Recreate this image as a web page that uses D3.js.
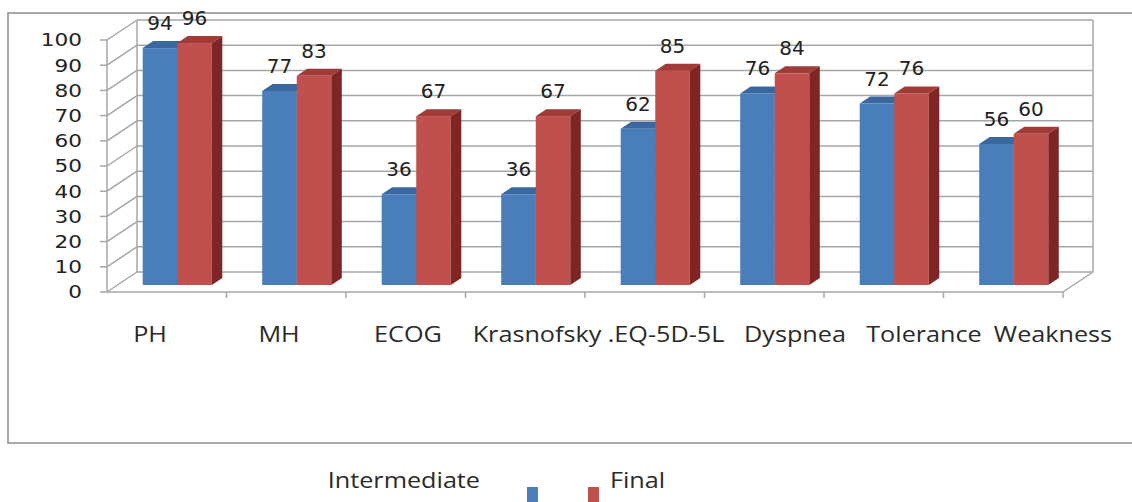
<!DOCTYPE html>
<html>
<head>
<meta charset="utf-8">
<script src="https://cdn.jsdelivr.net/npm/d3@7"></script>
<style>
  html, body { margin: 0; padding: 0; background: #fff; }
  svg { display: block; }
</style>
</head>
<body>
<svg id="chart" width="1132" height="502"></svg>
<script>
// chart data
const categories = ['PH', 'MH', 'ECOG', 'Krasnofsky', '.EQ-5D-5L', 'Dyspnea', 'Tolerance', 'Weakness'];
const series = ['Intermediate', 'Final'];
const intermediate = [94, 77, 36, 36, 62, 76, 72, 56];
const final = [96, 83, 67, 67, 85, 84, 76, 60];
const yTicks = [0, 10, 20, 30, 40, 50, 60, 70, 80, 90, 100];

const colors = {
  Intermediate: { front: '#4a7ebb', top: '#3a679e', side: '#2f5688' },
  Final: { front: '#c0504d', top: '#a03b38', side: '#7f2624' }
};

const svg = d3.select('#chart');
const gridColor = '#a6a6a6';
const stretch = 'scale(1.2,1)';

// depth projection: d = 0 front, d = 1 back wall
const depthX = 30, depthY = -20;
function px(x, d) { return x + depthX * d; }
function py(y, d) { return y + depthY * d; }

const x0 = d3.scaleBand().domain(categories).range([107, 1063]);
const x1 = d3.scaleBand().domain(series).range([0, x0.bandwidth()]).paddingOuter(0.73);
const y = d3.scaleLinear().domain([0, 100]).range([292, 40]);
const labelX = d3.scalePoint().domain(categories).range([150, 1053]);

// outer frame
svg.append('rect')
  .attr('x', 8).attr('y', 13)
  .attr('width', 1140).attr('height', 430)
  .attr('fill', 'none').attr('stroke', '#8c8c8c').attr('stroke-width', 1.5);

const wall = svg.append('g').attr('stroke', gridColor).attr('stroke-width', 1.5).attr('fill', 'none');

// back wall gridlines
wall.selectAll('line.grid').data(yTicks).join('line')
  .attr('class', 'grid')
  .attr('x1', px(x0.range()[0], 1)).attr('x2', px(x0.range()[1], 1))
  .attr('y1', d => py(y(d), 1)).attr('y2', d => py(y(d), 1));

// back wall edges
wall.append('line')
  .attr('x1', px(x0.range()[0], 1)).attr('x2', px(x0.range()[0], 1))
  .attr('y1', py(y(0), 1)).attr('y2', py(y(100), 1));
wall.append('line')
  .attr('x1', px(x0.range()[1], 1)).attr('x2', px(x0.range()[1], 1))
  .attr('y1', py(y(0), 1)).attr('y2', py(y(100), 1));

// side wall diagonals
wall.selectAll('line.diag').data(yTicks).join('line')
  .attr('class', 'diag')
  .attr('x1', x0.range()[0]).attr('y1', d => y(d))
  .attr('x2', px(x0.range()[0], 1)).attr('y2', d => py(y(d), 1));

// floor
wall.append('line')
  .attr('x1', x0.range()[0]).attr('x2', x0.range()[1])
  .attr('y1', y(0)).attr('y2', y(0));
wall.append('line')
  .attr('x1', x0.range()[1]).attr('y1', y(0))
  .attr('x2', px(x0.range()[1], 1)).attr('y2', py(y(0), 1));

// front value axis with ticks
wall.append('line')
  .attr('x1', x0.range()[0]).attr('x2', x0.range()[0])
  .attr('y1', y(0)).attr('y2', y(100));
wall.selectAll('line.ytick').data(yTicks).join('line')
  .attr('class', 'ytick')
  .attr('x1', x0.range()[0] - 7).attr('x2', x0.range()[0])
  .attr('y1', d => y(d)).attr('y2', d => y(d));

// category ticks
wall.selectAll('line.xtick').data(categories).join('line')
  .attr('class', 'xtick')
  .attr('x1', d => x0(d) + x0.step())
  .attr('x2', d => x0(d) + x0.step())
  .attr('y1', y(0)).attr('y2', y(0) + 6);

// y tick labels
svg.selectAll('text.ylab').data(yTicks).join('text')
  .attr('class', 'ylab')
  .attr('transform', d => `translate(82,${y(d)}) ${stretch}`)
  .attr('dy', '0.36em')
  .attr('text-anchor', 'end')
  .attr('font-family', 'DejaVu Sans')
  .attr('font-size', 18)
  .attr('fill', '#222')
  .text(d => d);

// bars, drawn left to right so the right side faces overlap correctly
const bars = [];
categories.forEach((c, i) => {
  bars.push({ cat: c, s: 'Intermediate', v: intermediate[i] });
  bars.push({ cat: c, s: 'Final', v: final[i] });
});

const dFront = 0.35, dBack = 0.7;
const barG = svg.append('g');
bars.forEach(b => {
  const xl = px(x0(b.cat) + x1(b.s), dFront);
  const w = x1.bandwidth();
  const yt = py(y(b.v), dFront);
  const yb = py(y(0), dFront);
  const dx = depthX * (dBack - dFront), dy = depthY * (dBack - dFront);
  const g = barG.append('g');
  g.append('rect')
    .attr('x', xl).attr('y', yt).attr('width', w).attr('height', yb - yt)
    .attr('fill', colors[b.s].front);
  g.append('path')
    .attr('d', `M${xl},${yt}L${xl + dx},${yt + dy}L${xl + w + dx},${yt + dy}L${xl + w},${yt}Z`)
    .attr('fill', colors[b.s].top);
  g.append('path')
    .attr('d', `M${xl + w},${yt}L${xl + w + dx},${yt + dy}L${xl + w + dx},${yb + dy}L${xl + w},${yb}Z`)
    .attr('fill', colors[b.s].side);
  // value label
  svg.append('text')
    .attr('x', xl + w / 2)
    .attr('y', py(y(b.v), dBack) - 11)
    .attr('text-anchor', 'middle')
    .attr('font-family', 'DejaVu Sans')
    .attr('font-size', 20)
    .attr('fill', '#222')
    .text(b.v);
});

// category labels
svg.selectAll('text.cat').data(categories).join('text')
  .attr('class', 'cat')
  .attr('transform', d => `translate(${labelX(d)},342) ${stretch}`)
  .attr('text-anchor', 'middle')
  .attr('font-family', 'Open Sans')
  .attr('font-size', 21)
  .attr('fill', '#2a2a2a')
  .text(d => d);

// legend
const legend = svg.append('g');
series.forEach((s, i) => {
  const sx = 527 + i * 61;
  legend.append('rect')
    .attr('x', sx).attr('y', 487)
    .attr('width', 11).attr('height', 18)
    .attr('fill', colors[s].front);
  legend.append('text')
    .attr('transform', `translate(${i === 0 ? sx - 47 : sx + 22},488) ${stretch}`)
    .attr('text-anchor', i === 0 ? 'end' : 'start')
    .attr('font-family', 'Open Sans')
    .attr('font-size', 21)
    .attr('fill', '#2a2a2a')
    .text(s);
});
</script>
</body>
</html>
